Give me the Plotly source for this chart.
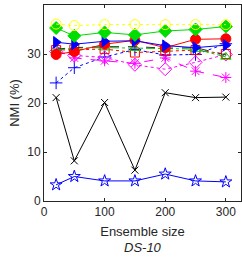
import plotly.graph_objects as go

sizes = [20, 50, 100, 150, 200, 250, 300]

yellow_circ = [36.1, 35.8, 36.0, 36.0, 36.0, 36.0, 36.0]
green_diam = [35.3, 33.7, 34.4, 33.9, 34.7, 35.0, 35.6]
blue_tri = [32.4, 32.0, 32.6, 32.7, 31.7, 31.3, 31.8]
red_circ = [29.9, 30.5, 32.0, 32.8, 31.3, 33.0, 33.1]
black_dash = [31.0, 31.3, 31.5, 31.5, 31.2, 31.3, 29.8]
green_tri = [30.8, 31.2, 31.3, 31.2, 31.0, 31.0, 29.4]
red_sq = [30.8, 30.9, 31.0, 30.3, 30.6, 30.8, 30.0]
mag_diam = [30.5, 29.7, 29.3, 27.8, 26.9, 28.3, 29.9]
mag_star = [30.7, 29.2, 28.6, 28.1, 29.2, 26.5, 25.2]
blue_plus = [24.1, 27.2, 29.4, 30.9, 29.8, 29.9, 32.1]
black_x = [21.1, 8.2, 20.1, 6.3, 22.1, 21.1, 21.2]
blue_star = [3.3, 5.0, 4.1, 4.1, 5.5, 4.1, 3.9]

series = [
    (blue_star, "#0000ff", "solid", "star-open", 9),
    (black_x, "#000000", "solid", "x-thin-open", 7),
    (blue_plus, "#0000ff", "dot", "cross-thin-open", 9),
    (mag_star, "#ff00ff", "dash", "asterisk-open", 9),
    (mag_diam, "#ff00ff", "dot", "diamond-open", 10),
    (red_sq, "#ff0000", "dot", "square-open", 9),
    (green_tri, "#00cc00", "dashdot", "triangle-up-open", 9),
    (black_dash, "#333333", "dash", "line-ew-open", 1),
    (red_circ, "#ff0000", "solid", "circle", 10),
    (blue_tri, "#0000ff", "solid", "triangle-right", 10),
    (green_diam, "#00dd00", "solid", "diamond", 10),
    (yellow_circ, "#ffff00", "dot", "circle-open", 10),
]

fig = go.Figure()
for ys, col, dash, sym, ms in series:
    fig.add_trace(go.Scatter(
        x=sizes, y=ys, mode="lines+markers",
        line=dict(color=col, dash=dash, width=1),
        marker=dict(symbol=sym, size=ms, color=col, line=dict(color=col, width=1)),
        showlegend=False,
    ))

FONT = "Liberation Sans, Arial"
axis_common = dict(
    showline=True, linecolor="#262626", linewidth=1, mirror="ticks",
    ticks="inside", ticklen=3, tickcolor="#262626", showgrid=False, zeroline=False,
    tickfont=dict(family=FONT, size=12, color="#262626"),
)
fig.update_xaxes(range=[0, 325], tickvals=[0, 100, 200, 300],
                 title=dict(text="Ensemble size", font=dict(family=FONT, size=13, color="#262626"), standoff=8),
                 **axis_common)
fig.update_yaxes(range=[0, 40], tickvals=[0, 10, 20, 30, 40],
                 title=dict(text="NMI (%)", font=dict(family=FONT, size=13, color="#262626"), standoff=4),
                 **axis_common)
fig.add_annotation(text="<i>DS-10</i>", xref="paper", yref="paper", x=0.5, y=-0.19,
                   showarrow=False, yanchor="top",
                   font=dict(family=FONT, size=13, color="#262626"))
fig.update_layout(width=242, height=259, margin=dict(l=44, r=1, t=5, b=58),
                  plot_bgcolor="white", paper_bgcolor="white")
fig.write_html("out.html", config={"displayModeBar": False},
               post_script="document.body.style.margin='0';document.body.style.overflow='hidden';")
